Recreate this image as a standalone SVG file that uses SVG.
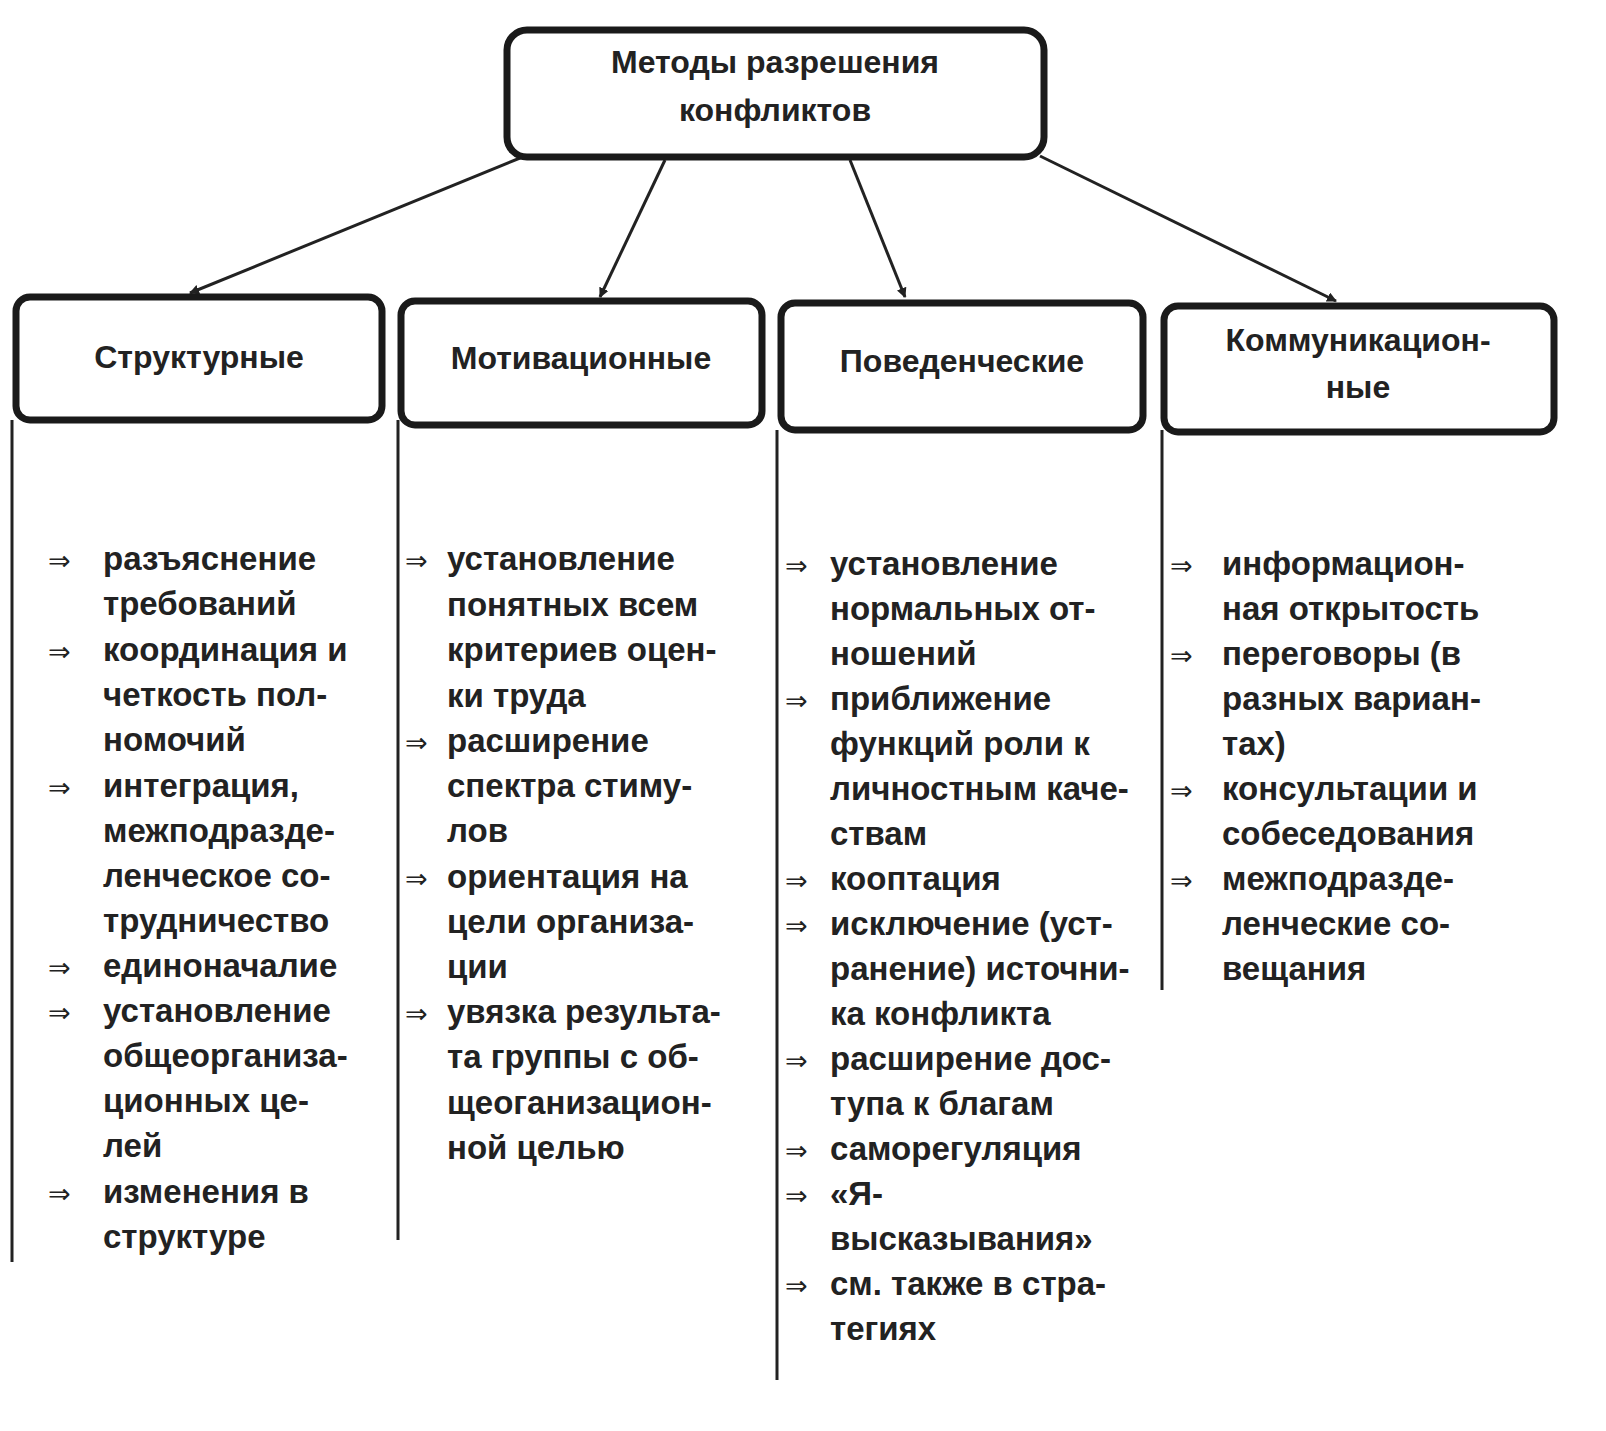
<svg xmlns="http://www.w3.org/2000/svg" width="1606" height="1431" viewBox="0 0 1606 1431">
<style>
.box{fill:#fff;stroke:#1a1a1a;stroke-width:7}
.h{font-family:"Liberation Sans",Arial,sans-serif;font-weight:bold;font-size:32px;fill:#222;text-anchor:middle}
.t{font-family:"Liberation Sans",Arial,sans-serif;font-weight:bold;font-size:33px;fill:#222}
.a{font-family:"DejaVu Sans",sans-serif;font-size:27px;fill:#222}
.l{stroke:#222;stroke-width:3;fill:none}
</style>
<defs><marker id="ar" markerWidth="10" markerHeight="10" refX="9" refY="5" orient="auto" markerUnits="userSpaceOnUse"><path d="M0,0 L10,5 L0,10 Z" fill="#222"/></marker></defs>
<rect width="1606" height="1431" fill="#fff"/>
<g id="connectors">
<line class="l" x1="525" y1="156" x2="190" y2="293" marker-end="url(#ar)"/>
<line class="l" x1="665" y1="160" x2="600" y2="297" marker-end="url(#ar)"/>
<line class="l" x1="850" y1="160" x2="905" y2="297" marker-end="url(#ar)"/>
<line class="l" x1="1040" y1="156" x2="1336" y2="301" marker-end="url(#ar)"/>
<line class="l" x1="12" y1="420" x2="12" y2="1262"/>
<line class="l" x1="398" y1="420" x2="398" y2="1240"/>
<line class="l" x1="777" y1="430" x2="777" y2="1380"/>
<line class="l" x1="1162" y1="430" x2="1162" y2="990"/>
</g>
<g id="root"><rect class="box" x="507" y="30" width="537" height="127" rx="20"/>
<text class="h" x="775" y="73">Методы  разрешения</text><text class="h" x="775" y="121">конфликтов</text></g>
<g id="n1"><rect class="box" x="16" y="297" width="366" height="123" rx="14"/><text class="h" x="199" y="368">Структурные</text></g>
<g id="n2"><rect class="box" x="401" y="301" width="361" height="124" rx="14"/><text class="h" x="581" y="369">Мотивационные</text></g>
<g id="n3"><rect class="box" x="781" y="303" width="362" height="127" rx="14"/><text class="h" x="962" y="372">Поведенческие</text></g>
<g id="n4"><rect class="box" x="1164" y="306" width="390" height="126" rx="14"/><text class="h" x="1358" y="351">Коммуникацион-</text><text class="h" x="1358" y="398">ные</text></g>
<g id="col1">
<text class="a" x="48" y="570">⇒</text><text class="a" x="48" y="661">⇒</text><text class="a" x="48" y="797">⇒</text><text class="a" x="48" y="977">⇒</text><text class="a" x="48" y="1022">⇒</text><text class="a" x="48" y="1203">⇒</text>
<text class="t" x="103" y="570">разъяснение</text><text class="t" x="103" y="615">требований</text><text class="t" x="103" y="661">координация и</text><text class="t" x="103" y="706">четкость пол-</text><text class="t" x="103" y="751">номочий</text><text class="t" x="103" y="797">интеграция,</text><text class="t" x="103" y="842">межподразде-</text><text class="t" x="103" y="887">ленческое со-</text><text class="t" x="103" y="932">трудничество</text><text class="t" x="103" y="977">единоначалие</text><text class="t" x="103" y="1022">установление</text><text class="t" x="103" y="1067">общеорганиза-</text><text class="t" x="103" y="1112">ционных це-</text><text class="t" x="103" y="1157">лей</text><text class="t" x="103" y="1203">изменения в</text><text class="t" x="103" y="1248">структуре</text>
</g>
<g id="col2">
<text class="a" x="405" y="570">⇒</text><text class="a" x="405" y="752">⇒</text><text class="a" x="405" y="888">⇒</text><text class="a" x="405" y="1023">⇒</text>
<text class="t" x="447" y="570">установление</text><text class="t" x="447" y="616">понятных всем</text><text class="t" x="447" y="661">критериев оцен-</text><text class="t" x="447" y="707">ки труда</text><text class="t" x="447" y="752">расширение</text><text class="t" x="447" y="797">спектра стиму-</text><text class="t" x="447" y="842">лов</text><text class="t" x="447" y="888">ориентация на</text><text class="t" x="447" y="933">цели организа-</text><text class="t" x="447" y="978">ции</text><text class="t" x="447" y="1023">увязка результа-</text><text class="t" x="447" y="1068">та группы с об-</text><text class="t" x="447" y="1114">щеоганизацион-</text><text class="t" x="447" y="1159">ной целью</text>
</g>
<g id="col3">
<text class="a" x="785" y="575">⇒</text><text class="a" x="785" y="710">⇒</text><text class="a" x="785" y="890">⇒</text><text class="a" x="785" y="935">⇒</text><text class="a" x="785" y="1070">⇒</text><text class="a" x="785" y="1160">⇒</text><text class="a" x="785" y="1205">⇒</text><text class="a" x="785" y="1295">⇒</text>
<text class="t" x="830" y="575">установление</text><text class="t" x="830" y="620">нормальных от-</text><text class="t" x="830" y="665">ношений</text><text class="t" x="830" y="710">приближение</text><text class="t" x="830" y="755">функций роли к</text><text class="t" x="830" y="800">личностным каче-</text><text class="t" x="830" y="845">ствам</text><text class="t" x="830" y="890">кооптация</text><text class="t" x="830" y="935">исключение (уст-</text><text class="t" x="830" y="980">ранение) источни-</text><text class="t" x="830" y="1025">ка конфликта</text><text class="t" x="830" y="1070">расширение дос-</text><text class="t" x="830" y="1115">тупа к благам</text><text class="t" x="830" y="1160">саморегуляция</text><text class="t" x="830" y="1205">«Я-</text><text class="t" x="830" y="1250">высказывания»</text><text class="t" x="830" y="1295">см. также в стра-</text><text class="t" x="830" y="1340">тегиях</text>
</g>
<g id="col4">
<text class="a" x="1170" y="575">⇒</text><text class="a" x="1170" y="665">⇒</text><text class="a" x="1170" y="800">⇒</text><text class="a" x="1170" y="890">⇒</text>
<text class="t" x="1222" y="575">информацион-</text><text class="t" x="1222" y="620">ная открытость</text><text class="t" x="1222" y="665">переговоры (в</text><text class="t" x="1222" y="710">разных вариан-</text><text class="t" x="1222" y="755">тах)</text><text class="t" x="1222" y="800">консультации и</text><text class="t" x="1222" y="845">собеседования</text><text class="t" x="1222" y="890">межподразде-</text><text class="t" x="1222" y="935">ленческие со-</text><text class="t" x="1222" y="980">вещания</text>
</g>
</svg>
